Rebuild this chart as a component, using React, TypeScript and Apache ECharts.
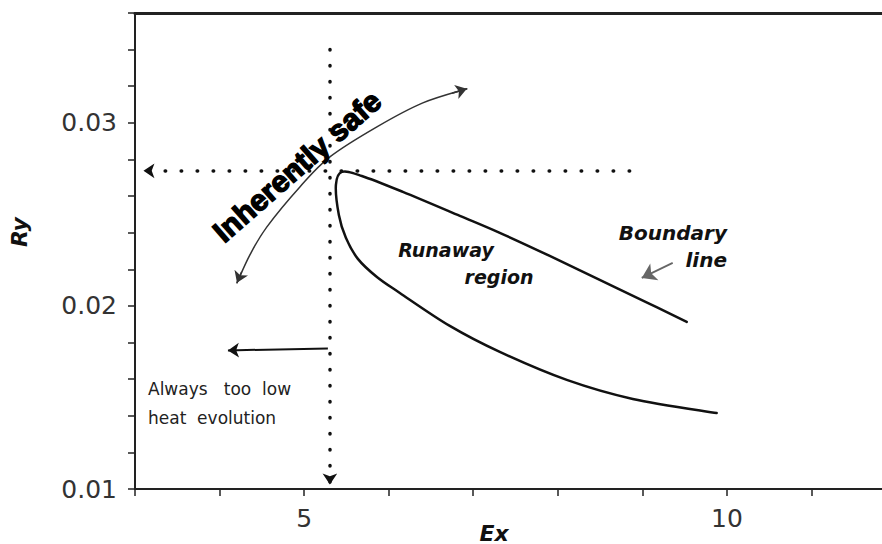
import React, { useEffect, useRef } from "react";
import * as echarts from "echarts";

// Axis tick labels
const xTickLabels = [5, 10];
const yTickLabels = [0.01, 0.02, 0.03];

// Runaway region envelope (upper branch reversed, tip, lower branch)
const runawayEx = [9.525, 9.087, 8.496, 7.905, 7.314, 6.842, 6.168, 5.683, 5.447, 5.376, 5.411, 5.494, 5.636, 5.861, 6.132, 6.723, 7.314, 8.106, 8.887, 9.879];
const runawayRy = [0.01913, 0.02011, 0.02142, 0.02273, 0.02399, 0.02492, 0.02623, 0.0271, 0.02732, 0.02661, 0.02497, 0.02372, 0.02257, 0.02158, 0.02071, 0.01891, 0.01749, 0.01596, 0.01492, 0.01415];

// "Inherently safe" double arrow curve
const safeEx = [4.206, 4.359, 4.56, 4.95, 5.305, 5.861, 6.404, 6.924];
const safeRy = [0.02126, 0.02279, 0.02432, 0.0265, 0.02814, 0.02978, 0.03109, 0.03186];

// Arrow heads of the safe curve [fromEx, fromRy, toEx, toRy]
const safeHeads = [
  [4.26, 0.02185, 4.206, 0.02126],
  [6.75, 0.03162, 6.924, 0.03186],
];

// Dotted guide lines [fromEx, fromRy, toEx, toRy]
const dottedGuides = [
  [8.85, 0.02738, 3.1, 0.02738],
  [5.305, 0.034, 5.305, 0.01025],
];

// "Always too low" arrow
const lowArrow = [5.281, 0.01768, 4.099, 0.01757];
// "Boundary line" pointer
const boundaryArrow = [9.359, 0.02235, 8.993, 0.02153];

const seg = (a: number[]) => ({ coords: [[a[0], a[1]], [a[2], a[3]]] });

// Catmull-Rom spline through pixel points -> SVG path data
function splinePath(pts: number[][]): string {
  if (pts.length < 2) return "";
  let d = `M${pts[0][0]},${pts[0][1]}`;
  for (let i = 0; i < pts.length - 1; i++) {
    const p0 = pts[i - 1] || pts[i];
    const p1 = pts[i];
    const p2 = pts[i + 1];
    const p3 = pts[i + 2] || p2;
    const c1x = p1[0] + (p2[0] - p0[0]) / 6;
    const c1y = p1[1] + (p2[1] - p0[1]) / 6;
    const c2x = p2[0] - (p3[0] - p1[0]) / 6;
    const c2y = p2[1] - (p3[1] - p1[1]) / 6;
    d += ` C${c1x},${c1y} ${c2x},${c2y} ${p2[0]},${p2[1]}`;
  }
  return d;
}

function curveSeries(xs: number[], ys: number[], color: string, width: number) {
  return {
    type: "custom",
    coordinateSystem: "cartesian2d",
    data: [[xs[0], ys[0]]],
    z: 5,
    silent: true,
    renderItem: (_params: any, api: any) => {
      const pts = xs.map((x, i) => api.coord([x, ys[i]]));
      return {
        type: "path",
        shape: { pathData: splinePath(pts) },
        style: { fill: "none", stroke: color, lineWidth: width, lineJoin: "round", lineCap: "round" },
      };
    },
  };
}

export default function App() {
  const ref = useRef<HTMLDivElement>(null);
  useEffect(() => {
    if (!ref.current) return;
    const chart = echarts.init(ref.current, null, { renderer: "svg" });
    const labelFont = "DejaVu Sans";
    const option: any = {
      animation: false,
      backgroundColor: "#ffffff",
      grid: { left: 135, width: 761, top: 13, bottom: 55, containLabel: false, outerBoundsMode: "none" },
      xAxis: [
        {
          type: "value",
          min: 3,
          max: 12,
          interval: 1,
          position: "bottom",
          axisLine: { show: true, lineStyle: { color: "#222", width: 2 } },
          axisTick: { show: true, inside: false, length: 7, lineStyle: { color: "#222", width: 1.5 } },
          splitLine: { show: false },
          axisLabel: {
            margin: 17,
            fontSize: 25,
            fontFamily: labelFont,
            color: "#333",
            showMinLabel: true,
            showMaxLabel: true,
            formatter: (v: number) => (xTickLabels.some((t) => Math.abs(t - v) < 1e-6) ? String(v) : ""),
          },
        },
        {
          type: "value",
          min: 3,
          max: 12,
          position: "top",
          axisLine: { show: true, onZero: false, lineStyle: { color: "#222", width: 3 } },
          axisTick: { show: false },
          axisLabel: { show: false },
          splitLine: { show: false },
        },
      ],
      yAxis: {
        type: "value",
        min: 0.01,
        max: 0.036,
        interval: 0.002,
        axisLine: { show: true, lineStyle: { color: "#222", width: 2 } },
        axisTick: { show: true, inside: false, length: 7, lineStyle: { color: "#222", width: 1.5 } },
        splitLine: { show: false },
        axisLabel: {
          margin: 18,
          fontSize: 25,
          fontFamily: labelFont,
          color: "#333",
          showMinLabel: true,
          formatter: (v: number) => {
            const hit = yTickLabels.find((t) => Math.abs(t - v) < 1e-7);
            return hit !== undefined ? hit.toFixed(2) : "";
          },
        },
      },
      series: [
        curveSeries(runawayEx, runawayRy, "#111", 2.5),
        curveSeries(safeEx, safeRy, "#333", 1.5),
        {
          type: "lines",
          coordinateSystem: "cartesian2d",
          data: safeHeads.map(seg),
          symbol: ["none", "arrow"],
          symbolSize: [1, 11],
          lineStyle: { color: "#333", width: 1.5, opacity: 1 },
          z: 6,
        },
        {
          type: "lines",
          coordinateSystem: "cartesian2d",
          data: dottedGuides.map(seg),
          symbol: ["none", "arrow"],
          symbolSize: [1, 11],
          lineStyle: { color: "#111", width: 3.5, type: [0.5, 15.5], cap: "round", opacity: 1 },
          z: 4,
        },
        {
          type: "lines",
          coordinateSystem: "cartesian2d",
          data: [seg(lowArrow)],
          symbol: ["none", "arrow"],
          symbolSize: [1, 11],
          lineStyle: { color: "#111", width: 2, opacity: 1 },
          z: 4,
        },
        {
          type: "lines",
          coordinateSystem: "cartesian2d",
          data: [seg(boundaryArrow)],
          symbol: ["none", "arrow"],
          symbolSize: [1, 14],
          lineStyle: { color: "#666", width: 1.8, opacity: 1 },
          z: 4,
        },
      ],
      graphic: [
        {
          type: "text",
          x: 297,
          y: 166,
          rotation: 0.72,
          z: 10,
          style: {
            text: "Inherently safe",
            font: "bold 30px 'Liberation Sans'",
            fill: "#000",
            stroke: "#000",
            lineWidth: 1.4,
            align: "center",
            verticalAlign: "middle",
            shadowColor: "rgba(0,0,0,0.35)",
            shadowBlur: 2,
            shadowOffsetX: 1,
            shadowOffsetY: 1,
          },
        },
        {
          type: "text",
          x: 446,
          y: 250,
          style: { text: "Runaway", font: "italic bold 19px 'DejaVu Sans'", fill: "#111", align: "center", verticalAlign: "middle" },
        },
        {
          type: "text",
          x: 499,
          y: 277,
          style: { text: "region", font: "italic bold 19px 'DejaVu Sans'", fill: "#111", align: "center", verticalAlign: "middle" },
        },
        {
          type: "text",
          x: 727,
          y: 233,
          style: { text: "Boundary", font: "italic bold 20px 'DejaVu Sans'", fill: "#111", align: "right", verticalAlign: "middle" },
        },
        {
          type: "text",
          x: 727,
          y: 260,
          style: { text: "line", font: "italic bold 20px 'DejaVu Sans'", fill: "#111", align: "right", verticalAlign: "middle" },
        },
        {
          type: "text",
          x: 148,
          y: 389,
          style: { text: "Always   too  low", font: "17px 'DejaVu Sans'", fill: "#222", align: "left", verticalAlign: "middle" },
        },
        {
          type: "text",
          x: 148,
          y: 418,
          style: { text: "heat  evolution", font: "17px 'DejaVu Sans'", fill: "#222", align: "left", verticalAlign: "middle" },
        },
        {
          type: "text",
          x: 494,
          y: 533,
          style: { text: "Ex", font: "italic bold 22px 'DejaVu Sans'", fill: "#111", align: "center", verticalAlign: "middle" },
        },
        {
          type: "text",
          x: 19,
          y: 232,
          rotation: Math.PI / 2,
          style: { text: "Ry", font: "italic bold 22px 'DejaVu Sans'", fill: "#111", align: "center", verticalAlign: "middle" },
        },
      ],
    };
    chart.setOption(option);
    return () => chart.dispose();
  }, []);
  return (
    <div
      ref={ref}
      style={{ position: "fixed", left: 0, top: 0, width: 882, height: 544, background: "#fff" }}
    />
  );
}
